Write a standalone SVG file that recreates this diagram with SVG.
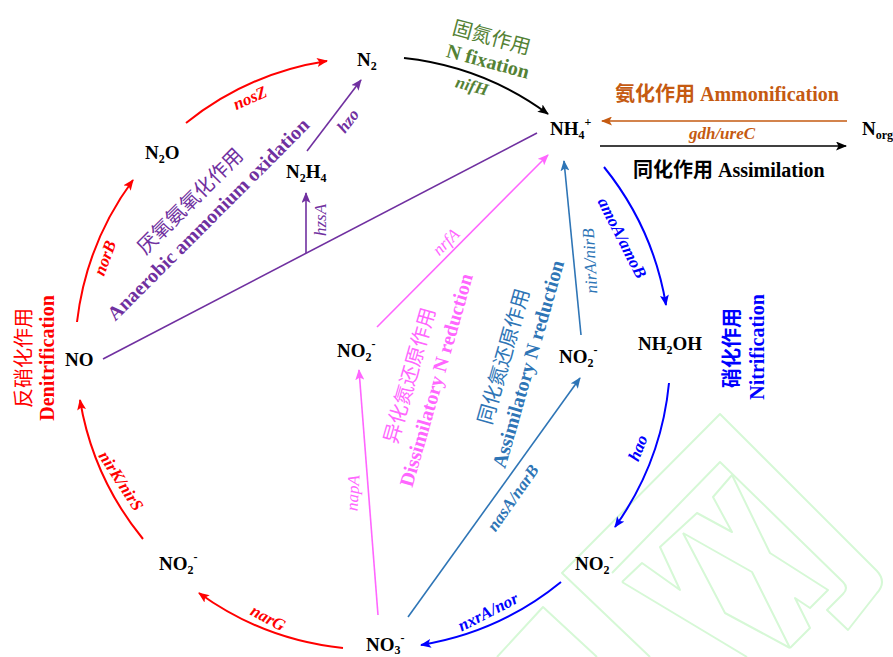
<svg xmlns="http://www.w3.org/2000/svg" width="893" height="657" viewBox="0 0 893 657">
<defs>
<style>
.n{font-family:"Liberation Serif","Times New Roman",serif;font-weight:bold;font-size:19px;fill:#000}
.s{font-size:12px}
.e{font-family:"Liberation Serif","Times New Roman",serif;font-style:italic;font-weight:bold;font-size:17px;text-anchor:middle;dominant-baseline:central}
.ei{font-weight:normal}
.p{font-family:"Liberation Serif","Noto Sans CJK SC",serif;font-size:20px;text-anchor:middle;dominant-baseline:central}
.b{font-weight:bold}
.k{font-family:"Noto Sans CJK SC",sans-serif;font-weight:normal}
.c{fill:none;stroke-width:2}
.l{fill:none;stroke-width:1.6}
.wm{fill:none;stroke:#d6f8d6;stroke-width:2;stroke-linejoin:round}
</style>
<marker id="mr" viewBox="0 0 11 9" refX="10" refY="4.5" markerWidth="11" markerHeight="9" orient="auto" markerUnits="userSpaceOnUse"><path d="M0,0 L11,4.5 L0,9 L2.5,4.5 Z" fill="#FF0000"/></marker>
<marker id="mk" viewBox="0 0 11 9" refX="10" refY="4.5" markerWidth="11" markerHeight="9" orient="auto" markerUnits="userSpaceOnUse"><path d="M0,0 L11,4.5 L0,9 L2.5,4.5 Z" fill="#000000"/></marker>
<marker id="mp" viewBox="0 0 11 9" refX="10" refY="4.5" markerWidth="11" markerHeight="9" orient="auto" markerUnits="userSpaceOnUse"><path d="M0,0 L11,4.5 L0,9 L2.5,4.5 Z" fill="#7030A0"/></marker>
<marker id="mpk" viewBox="0 0 11 9" refX="10" refY="4.5" markerWidth="11" markerHeight="9" orient="auto" markerUnits="userSpaceOnUse"><path d="M0,0 L11,4.5 L0,9 L2.5,4.5 Z" fill="#FF66FF"/></marker>
<marker id="msb" viewBox="0 0 11 9" refX="10" refY="4.5" markerWidth="11" markerHeight="9" orient="auto" markerUnits="userSpaceOnUse"><path d="M0,0 L11,4.5 L0,9 L2.5,4.5 Z" fill="#2E75B6"/></marker>
<marker id="mb" viewBox="0 0 11 9" refX="10" refY="4.5" markerWidth="11" markerHeight="9" orient="auto" markerUnits="userSpaceOnUse"><path d="M0,0 L11,4.5 L0,9 L2.5,4.5 Z" fill="#0000FF"/></marker>
<marker id="mo" viewBox="0 0 11 9" refX="10" refY="4.5" markerWidth="11" markerHeight="9" orient="auto" markerUnits="userSpaceOnUse"><path d="M0,0 L11,4.5 L0,9 L2.5,4.5 Z" fill="#C55A11"/></marker>
</defs>
<rect width="893" height="657" fill="#ffffff"/>

<g id="watermark">
<path class="wm" d="M650,657 L562,573 L720,414 L877,571 Q887,582 877,593 L848,630 L827,610 L843,594 Q849,588 843,582 L720,462 L612,573"/>
<path class="wm" d="M622,582 L642,563 L680,590 L660,547 L697,513 L732,532 L713,497 L732,475 L770,553 L828,590 L810,608 L795,598 L810,628 L790,648"/>
<path class="wm" d="M622,582 L707,633 L747,657"/>
<path class="wm" d="M683,533 L752,572 L790,648 M683,533 L725,613 L790,648"/>
<path class="wm" d="M497,657 L543,607 L597,657"/>
</g>

<g id="connectors">
<path class="c" stroke="#FF0000" d="M77,322 A297,297 0 0 1 133,180" marker-end="url(#mr)"/>
<path class="c" stroke="#FF0000" d="M186,123 A297,297 0 0 1 327,61" marker-end="url(#mr)"/>
<path class="c" stroke="#000000" d="M404,58 A297,297 0 0 1 548,114" marker-end="url(#mk)"/>
<path class="c" stroke="#0000FF" d="M604,167 A297,297 0 0 1 666,305" marker-end="url(#mb)"/>
<path class="c" stroke="#0000FF" d="M669,383 A297,297 0 0 1 615,527" marker-end="url(#mb)"/>
<path class="c" stroke="#0000FF" d="M561,582 A297,297 0 0 1 421,645" marker-end="url(#mb)"/>
<path class="c" stroke="#FF0000" d="M343,648 A297,297 0 0 1 199,593" marker-end="url(#mr)"/>
<path class="c" stroke="#FF0000" d="M143,539 A297,297 0 0 1 80,400" marker-end="url(#mr)"/>
<path class="l" stroke="#C55A11" stroke-width="2" d="M847,121 L602,121" marker-end="url(#mo)"/>
<path class="l" stroke="#000000" stroke-width="2" d="M600,146 L846,146" marker-end="url(#mk)"/>
<path class="l" stroke="#7030A0" d="M103,359 L537,133"/>
<path class="l" stroke="#7030A0" d="M306,253 L306,193" marker-end="url(#mp)"/>
<path class="l" stroke="#7030A0" d="M307,151 L361,80" marker-end="url(#mp)"/>
<path class="l" stroke="#FF66FF" d="M377,327 L548,155" marker-end="url(#mpk)"/>
<path class="l" stroke="#FF66FF" d="M378,615 L359,370" marker-end="url(#mpk)"/>
<path class="l" stroke="#2E75B6" d="M408,617 L580,378" marker-end="url(#msb)"/>
<path class="l" stroke="#2E75B6" d="M581,335 L564,161" marker-end="url(#msb)"/>
</g>

<g id="edge-labels">
<text class="e" fill="#FF0000" transform="translate(250,98) rotate(-24)">nosZ</text>
<text class="e" fill="#FF0000" transform="translate(105,258) rotate(-70)">norB</text>
<text class="e" fill="#FF0000" transform="translate(121,481) rotate(57)">nirK/nirS</text>
<text class="e" fill="#FF0000" transform="translate(268,618) rotate(28)">narG</text>
<text class="e" fill="#7030A0" transform="translate(348,121) rotate(-53)">hzo</text>
<text class="e ei" fill="#7030A0" transform="translate(320,220) rotate(-90)">hzsA</text>
<text class="e ei" fill="#FF66FF" transform="translate(446,242) rotate(-45)">nrfA</text>
<text class="e ei" fill="#FF66FF" transform="translate(353,493) rotate(-87)">napA</text>
<text class="e" fill="#2E75B6" transform="translate(513,498) rotate(-55)">nasA/narB</text>
<text class="e ei" fill="#2E75B6" transform="translate(590,261) rotate(-93)">nirA/nirB</text>
<text class="e" fill="#0000FF" transform="translate(622,238) rotate(63)">amoA/amoB</text>
<text class="e" fill="#0000FF" transform="translate(638,448) rotate(-68)">hao</text>
<text class="e" fill="#0000FF" transform="translate(488,612) rotate(-27)">nxrA/nor</text>
<text class="e" fill="#548235" transform="translate(472,86) rotate(15)">nifH</text>
<text class="e" fill="#C55A11" transform="translate(722,133)">gdh/ureC</text>
</g>

<g id="processes">
<text class="p k" fill="#548235" font-size="19" transform="translate(492,36) rotate(15)">固氮作用</text>
<text class="p b" fill="#548235" font-size="19" transform="translate(488,61) rotate(15)">N fixation</text>
<text class="b" fill="#C55A11" font-family="Liberation Serif, Noto Sans CJK SC, serif" font-size="20" x="615" y="101">氨化作用 Ammonification</text>
<text class="b" fill="#000000" font-family="Liberation Serif, Noto Sans CJK SC, serif" font-size="20" x="633" y="177">同化作用 Assimilation</text>
<text class="p k" fill="#FF0000" transform="translate(22,358) rotate(-90)">反硝化作用</text>
<text class="p b" fill="#FF0000" transform="translate(47,358) rotate(-90)">Denitrification</text>
<text class="p b" fill="#0000FF" transform="translate(732,348) rotate(-90)">硝化作用</text>
<text class="p b" fill="#0000FF" transform="translate(757,347) rotate(-90)">Nitrification</text>
<text class="p k" fill="#7030A0" transform="translate(189,200) rotate(-45)">厌氧氨氧化作用</text>
<text class="p b" fill="#7030A0" transform="translate(208,219) rotate(-45)">Anaerobic ammonium oxidation</text>
<text class="p k" fill="#FF66FF" transform="translate(408,375) rotate(-74)">异化氮还原作用</text>
<text class="p b" fill="#FF66FF" transform="translate(436,380) rotate(-74)">Dissimilatory N reduction</text>
<text class="p k" fill="#2E75B6" transform="translate(502,356) rotate(-74)">同化氮还原作用</text>
<text class="p b" fill="#2E75B6" transform="translate(528,364) rotate(-74)">Assimilatory N reduction</text>
</g>

<g id="node-N2"><text class="n" x="357" y="66">N<tspan class="s" dy="4">2</tspan></text></g>
<g id="node-NH4"><text class="n" x="550" y="135">NH<tspan class="s" dy="4">4</tspan><tspan class="s" dy="-13">+</tspan></text></g>
<g id="node-Norg"><text class="n" x="862" y="135">N<tspan class="s" dy="4">org</tspan></text></g>
<g id="node-N2O"><text class="n" x="145" y="159">N<tspan class="s" dy="4">2</tspan><tspan dy="-4">O</tspan></text></g>
<g id="node-N2H4"><text class="n" x="286" y="178">N<tspan class="s" dy="4">2</tspan><tspan dy="-4">H</tspan><tspan class="s" dy="4">4</tspan></text></g>
<g id="node-NO"><text class="n" x="65" y="366">NO</text></g>
<g id="node-NO2-a"><text class="n" x="337" y="357">NO<tspan class="s" dy="4">2</tspan><tspan class="s" dy="-13">-</tspan></text></g>
<g id="node-NO2-b"><text class="n" x="559" y="363">NO<tspan class="s" dy="4">2</tspan><tspan class="s" dy="-13">-</tspan></text></g>
<g id="node-NH2OH"><text class="n" x="638" y="350">NH<tspan class="s" dy="4">2</tspan><tspan dy="-4">OH</tspan></text></g>
<g id="node-NO2-c"><text class="n" x="159" y="570">NO<tspan class="s" dy="4">2</tspan><tspan class="s" dy="-13">-</tspan></text></g>
<g id="node-NO2-d"><text class="n" x="575" y="570">NO<tspan class="s" dy="4">2</tspan><tspan class="s" dy="-13">-</tspan></text></g>
<g id="node-NO3"><text class="n" x="366" y="651">NO<tspan class="s" dy="3">3</tspan><tspan class="s" dy="-12">-</tspan></text></g>
</svg>
